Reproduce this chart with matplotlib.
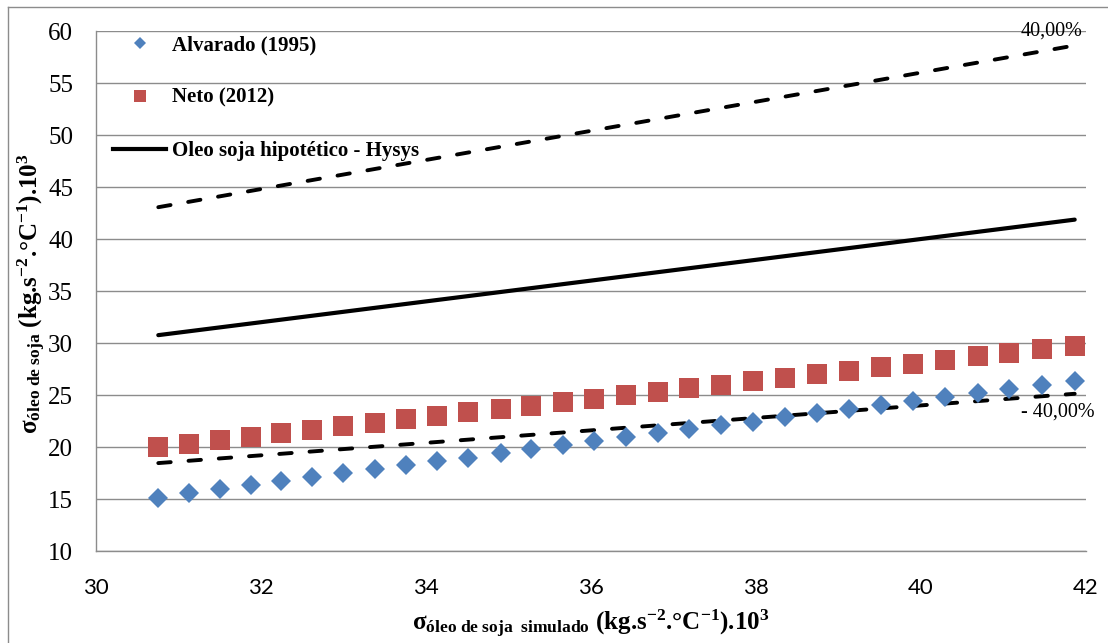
import matplotlib
matplotlib.use("Agg")
import matplotlib.pyplot as plt
from matplotlib.lines import Line2D

# Tensão superficial do óleo de soja (kg.s-2.°C-1).10^3
sigma_simulado = [30.755, 31.127, 31.499, 31.875, 32.246, 32.622, 32.998, 33.378, 33.754, 34.130,
                  34.513, 34.905, 35.273, 35.657, 36.036, 36.424, 36.808, 37.192, 37.576, 37.967,
                  38.352, 38.736, 39.127, 39.515, 39.906, 40.294, 40.687, 41.070, 41.470, 41.863]
alvarado_1995 = [15.13, 15.55, 15.93, 16.34, 16.73, 17.11, 17.47, 17.88, 18.26, 18.65,
                 18.96, 19.39, 19.77, 20.18, 20.57, 20.95, 21.31, 21.72, 22.07, 22.42,
                 22.84, 23.28, 23.64, 24.02, 24.41, 24.82, 25.20, 25.59, 25.94, 26.35]
neto_2012 = [19.96, 20.28, 20.66, 20.98, 21.31, 21.65, 21.98, 22.32, 22.65, 23.00,
             23.32, 23.67, 23.99, 24.34, 24.66, 24.98, 25.30, 25.65, 26.00, 26.34,
             26.68, 27.03, 27.35, 27.70, 28.02, 28.37, 28.72, 29.04, 29.40, 29.75]
desvio = 0.40  # faixa de ±40,00 %

y_ticks = [10, 15, 20, 25, 30, 35, 40, 45, 50, 55, 60]
x_ticks = [30, 32, 34, 36, 38, 40, 42]

serif = "Liberation Serif"
plt.rcParams["mathtext.fontset"] = "custom"
plt.rcParams["mathtext.rm"] = serif
plt.rcParams["mathtext.bf"] = serif + ":bold"
plt.rcParams["mathtext.it"] = serif + ":italic"

W, H = 1108, 643
fig = plt.figure(figsize=(W / 100, H / 100), dpi=100)
ax = fig.add_axes([96 / W, 1 - 551 / H, 990 / W, 520 / H])

blue = "#4F81BD"
red = "#C0504D"
grid = "#8C8C8C"

hysys = sigma_simulado
sup = [v * (1 + desvio) for v in hysys]
inf = [v * (1 - desvio) for v in hysys]

ax.plot(sigma_simulado, hysys, color="black", lw=3.0, solid_capstyle="round", zorder=3)
for serie in (sup, inf):
    ax.plot(sigma_simulado, serie, color="black", lw=2.8, dashes=(3.2, 4.6),
            dash_capstyle="round", zorder=3)

ax.plot(sigma_simulado, neto_2012, ls="none", marker="s", ms=14.4, mew=0, color=red, zorder=4)
ax.plot(sigma_simulado, alvarado_1995, ls="none", marker="D", ms=10.4, mew=0, color=blue, zorder=5)

ax.annotate("40,00%", (sigma_simulado[-1], sup[-1]), xytext=(-23, 14), textcoords="offset pixels",
            ha="center", va="center", fontsize=14.5, family=serif, zorder=6)
ax.annotate("- 40,00%", (sigma_simulado[-1], inf[-1]), xytext=(-17, -18), textcoords="offset pixels",
            ha="center", va="center", fontsize=14.5, family=serif, zorder=6)

ax.set_xlim(30, 42)
ax.set_ylim(10, 60)
ax.set_xticks(x_ticks)
ax.set_yticks(y_ticks)
ax.set_xticklabels([str(v) for v in x_ticks], family="Lato", fontsize=16)
ax.set_yticklabels([str(v) for v in y_ticks], family=serif, fontsize=18)
ax.tick_params(axis="both", length=0)
ax.tick_params(axis="y", pad=16.5)
ax.tick_params(axis="x", pad=19.5)

ax.yaxis.grid(True, color=grid, lw=1.0)
ax.set_axisbelow(True)
for s in ("top", "right"):
    ax.spines[s].set_visible(False)
for s in ("left", "bottom"):
    ax.spines[s].set_color(grid)
    ax.spines[s].set_linewidth(1.0)

handles = [
    Line2D([], [], ls="none", marker="D", ms=6.1, mew=0, color=blue),
    Line2D([], [], ls="none", marker="s", ms=8.6, mew=0, color=red),
    Line2D([], [], color="black", lw=3.0),
]
labels = ["Alvarado (1995)", "Neto (2012)", "Oleo soja hipotético - Hysys"]
ax.legend(handles, labels, loc="upper left", bbox_to_anchor=(17 / 990, 1 - 4 / 520),
          frameon=False, borderpad=0, borderaxespad=0, handlelength=2.55, handletextpad=0.3,
          labelspacing=1.58, prop={"family": serif, "weight": "bold", "size": 15})

unidade = r" (kg.s$^{\mathbf{-2}}$.°C$^{\mathbf{-1}}$).10$^{\mathbf{3}}$"
fig.text(32 / W, 1 - 294 / H,
         r"$\mathbf{σ}_{\mathbf{óleo\ de\ soja}}$" + unidade,
         rotation=90, ha="center", va="center", fontsize=18,
         family=serif, weight="bold")
fig.text(591 / W, 1 - 624 / H,
         r"$\mathbf{σ}_{\mathbf{óleo\ de\ soja\ \ simulado}}$" + unidade,
         ha="center", va="center", fontsize=18, family=serif, weight="bold")

# moldura externa do gráfico
fig.add_artist(Line2D([8 / W, 8 / W], [0, 1 - 7 / H], color=grid, lw=1.0))
fig.add_artist(Line2D([8 / W, 1], [1 - 7 / H, 1 - 7 / H], color=grid, lw=1.0))

fig.savefig("out.png", dpi=100)
